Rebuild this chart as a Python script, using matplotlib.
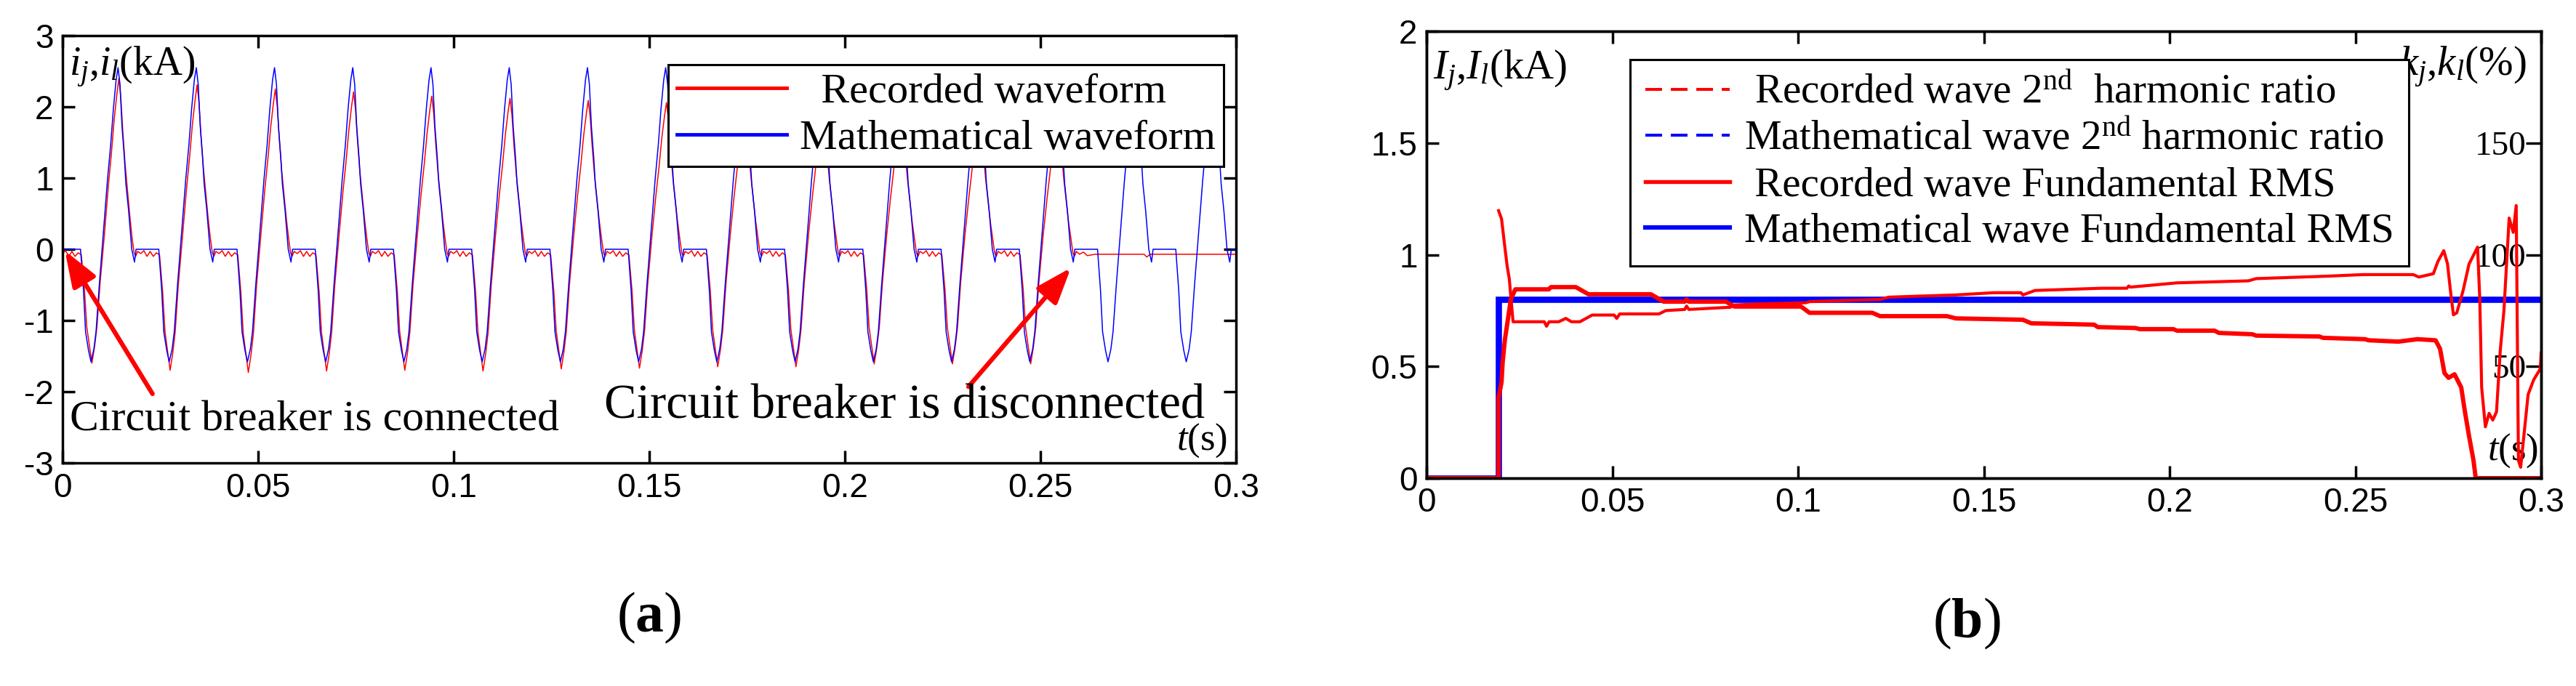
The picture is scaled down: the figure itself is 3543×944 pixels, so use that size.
import numpy as np
import matplotlib
matplotlib.use('Agg')
import matplotlib.pyplot as plt
from matplotlib.lines import Line2D

plt.rcParams['font.family'] = ['Liberation Serif', 'DejaVu Serif']
plt.rcParams['mathtext.fontset'] = 'custom'
plt.rcParams['mathtext.rm'] = 'Liberation Serif'
plt.rcParams['mathtext.it'] = 'Liberation Serif:italic'
plt.rcParams['mathtext.bf'] = 'Liberation Serif:bold'
plt.rcParams['axes.unicode_minus'] = False

# ---------------- panel (a): waveforms ----------------
# one 20 ms cycle of the mathematical waveform (s, kA)
period = 0.02
n_math_cycles = 15
cycle_t = [0.0, 0.0046, 0.00536, 0.00589, 0.00664, 0.00728, 0.00802, 0.00856,
           0.0094, 0.0105, 0.0115, 0.0123, 0.0130, 0.0137, 0.0142, 0.0147,
           0.0152, 0.0158, 0.0162, 0.0169, 0.0173, 0.0177, 0.0184, 0.0188]
math_cycle_i = [0.0, 0.0, -0.58, -1.16, -1.42, -1.58, -1.40, -1.16,
                -0.50, 0.27, 0.98, 1.46, 1.97, 2.38, 2.55, 2.31,
                1.73, 1.29, 0.92, 0.54, 0.27, 0.0, -0.18, 0.0]

# recorded waveform: reference cycle (2nd cycle) and per-cycle peaks
rec_cycle_t = [0.0, 0.0008, 0.0016, 0.0024, 0.0032, 0.0040, 0.0048, 0.0056,
               0.0062, 0.0069, 0.0075, 0.0082, 0.0088, 0.0096, 0.0107, 0.0117,
               0.0125, 0.0132, 0.0139, 0.0144, 0.0149, 0.0154, 0.0160, 0.0166,
               0.0172, 0.0178, 0.0183, 0.0187, 0.0192]
rec_cycle_i = [-0.06, -0.02, -0.10, -0.03, -0.10, -0.05, -0.08, -0.60,
               -1.16, -1.45, -1.70, -1.45, -1.16, -0.50, 0.20, 0.85,
               1.30, 1.75, 2.10, 2.31, 2.05, 1.60, 1.15, 0.80,
               0.45, 0.15, -0.05, -0.10, -0.03]
rec_ref_pos, rec_ref_neg = 2.31, -1.70
rec_pos_peaks = [2.40, 2.31, 2.25, 2.21, 2.15, 2.12, 2.09, 2.06, 2.03, 2.01, 1.99, 1.97, 1.95]
rec_neg_peaks = [-1.60, -1.70, -1.73, -1.71, -1.70, -1.71, -1.68, -1.67, -1.65, -1.65, -1.61, -1.61, -1.61]
rec_tail_t = [0.2600, 0.2610, 0.2620, 0.2640, 0.2700, 0.2765, 0.2772, 0.2780, 0.3000]
rec_tail_i = [-0.07, -0.04, -0.09, -0.07, -0.07, -0.07, -0.11, -0.07, -0.07]

a_xticks = [0, 0.05, 0.1, 0.15, 0.2, 0.25, 0.3]
a_xlabels = ['0', '0.05', '0.1', '0.15', '0.2', '0.25', '0.3']
a_yticks = [-3, -2, -1, 0, 1, 2, 3]
a_ylabels = ['-3', '-2', '-1', '0', '1', '2', '3']

# ---------------- panel (b): RMS and 2nd harmonic ratio ----------------
rms_math_t = [0.0, 0.0194, 0.0194, 0.3]
rms_math_v = [0.0, 0.0, 0.80, 0.80]

rms_rec_t = [0.0, 0.0194, 0.0194, 0.0202, 0.0205, 0.0211, 0.0219, 0.0227, 0.0239,
             0.0329, 0.0335, 0.0402, 0.0436, 0.0604, 0.0638, 0.0695, 0.0700, 0.0706,
             0.0806, 0.0829, 0.1008, 0.1031, 0.1200, 0.1221, 0.1401, 0.1425, 0.1605,
             0.1628, 0.1797, 0.1807, 0.1908, 0.1920, 0.2010, 0.2020, 0.2121, 0.2133,
             0.2223, 0.2233, 0.2403, 0.2413, 0.2526, 0.2536, 0.2616, 0.2667, 0.2716,
             0.2728, 0.2740, 0.2751, 0.2767, 0.2785, 0.2795, 0.2806, 0.2818, 0.2824, 0.3]
rms_rec_v = [0.0, 0.0, 0.36, 0.43, 0.52, 0.62, 0.71, 0.80, 0.845,
             0.845, 0.855, 0.855, 0.823, 0.823, 0.79, 0.79, 0.80, 0.79,
             0.79, 0.768, 0.768, 0.74, 0.74, 0.725, 0.725, 0.715, 0.709,
             0.693, 0.687, 0.676, 0.672, 0.667, 0.667, 0.66, 0.66, 0.65,
             0.644, 0.638, 0.634, 0.628, 0.622, 0.617, 0.611, 0.622, 0.617,
             0.579, 0.47, 0.449, 0.465, 0.406, 0.297, 0.189, 0.08, 0.0, 0.0]

h2_rec_t = [0.0194, 0.0202, 0.0209, 0.0217, 0.0223, 0.0227, 0.0233, 0.0317, 0.0323,
            0.0330, 0.0356, 0.0375, 0.0390, 0.0413, 0.0446, 0.0505, 0.0512, 0.0520,
            0.0626, 0.0644, 0.0695, 0.0700, 0.0706, 0.0818, 0.0829, 0.0902, 0.1020,
            0.1031, 0.1221, 0.1244, 0.1425, 0.1527, 0.1600, 0.1605, 0.1638, 0.1818,
            0.1885, 0.1890, 0.1895, 0.2020, 0.2212, 0.2233, 0.2425, 0.2521, 0.2656,
            0.2671, 0.2710, 0.2722, 0.2738, 0.2748, 0.2756, 0.2764, 0.2773, 0.2790,
            0.2806, 0.2829, 0.2835, 0.2840, 0.2850, 0.2860, 0.2870, 0.2880, 0.2890,
            0.2900, 0.2914, 0.2925, 0.2933, 0.2939, 0.2945, 0.2965, 0.2980, 0.2998, 0.3]
h2_rec_pct = [119.7, 116, 106, 95, 89, 81, 70, 70, 68,
              70, 70, 71.5, 70, 70, 73, 73, 71.5, 73.5,
              73.5, 75, 75.5, 77, 75.5, 76.5, 77.5, 78, 78.5,
              79, 80, 81, 82, 83, 83, 82, 84, 85,
              85, 86, 85.5, 87.4, 88.3, 89.3, 90.4, 91.1, 91.1,
              90, 91.5, 96.9, 101.8, 96, 83.9, 73.1, 74, 83.9,
              95.8, 103.4, 80, 40.6, 23, 29, 26, 29.7, 57,
              75.1, 116.4, 110, 122, 8, 4.9, 37.4, 44, 49, 56]

b_xticks = a_xticks
b_xlabels = a_xlabels
b_yticks = [0, 0.5, 1, 1.5, 2]
b_ylabels = ['0', '0.5', '1', '1.5', '2']
b_y2ticks = [50, 100, 150]
b_y2labels = ['50', '100', '150']

# build the periodic waveforms from the cycle templates
math_t = np.concatenate([k * period + np.array(cycle_t) for k in range(n_math_cycles)] + [[0.3]])
math_i = np.concatenate([math_cycle_i] * n_math_cycles + [[0.0]])

rec_t_parts, rec_i_parts = [], []
base = np.array(rec_cycle_i)
for k, (pk, nk) in enumerate(zip(rec_pos_peaks, rec_neg_peaks)):
    vals = base.copy()
    vals[base > 0.2] *= pk / rec_ref_pos
    vals[base < -0.2] *= nk / rec_ref_neg
    rec_t_parts.append(k * period + np.array(rec_cycle_t))
    rec_i_parts.append(vals)
rec_t = np.concatenate(rec_t_parts + [rec_tail_t])
rec_i = np.concatenate(rec_i_parts + [rec_tail_i])

W, H = 3543, 944
fig = plt.figure(figsize=(W / 100, H / 100), dpi=100)

sans = 'Liberation Sans'
tick_kw = dict(direction='in', length=12, width=2.5, labelsize=33, pad=9)

# ---- (a)
axa = fig.add_axes([86 / W, 1 - 637 / H, (1700 - 86) / W, (637 - 49) / H])
l_rec, = axa.plot(rec_t, rec_i, color='red', lw=1.1, label='  Recorded waveform')
l_math, = axa.plot(math_t, math_i, color='blue', lw=1.1, label='Mathematical waveform')
axa.set_xlim(0, 0.3)
axa.set_ylim(-3, 3)
axa.set_xticks(a_xticks, labels=a_xlabels, fontfamily=sans)
axa.set_yticks(a_yticks, labels=a_ylabels, fontfamily=sans)
axa.tick_params(top=True, right=True, **tick_kw)
for s in axa.spines.values():
    s.set_linewidth(2.5)

leg = axa.legend(handles=[l_rec, l_math], loc='upper left',
                 bbox_to_anchor=(919 / W, 1 - 89 / H), bbox_transform=fig.transFigure,
                 borderaxespad=0, prop={'family': 'Liberation Serif', 'size': 42},
                 handlelength=2.6, handletextpad=0.3, labelspacing=0.19, borderpad=0.2,
                 fancybox=False, framealpha=1, edgecolor='black')
leg.get_frame().set_linewidth(2.2)
for ln in leg.get_lines():
    ln.set_linewidth(3.5)

arrow_kw = dict(arrowstyle='-|>,head_length=1.5,head_width=0.55', color='red', lw=4.5,
                mutation_scale=20, shrinkA=0, shrinkB=0)
axa.annotate('', xy=(0.0006, -0.02), xytext=(0.023, -2.03), arrowprops=arrow_kw)
axa.annotate('', xy=(0.2578, -0.26), xytext=(0.2316, -1.93), arrowprops=arrow_kw)
axa.text(0.0019, -2.55, 'Circuit breaker is connected', fontsize=43, va='baseline')
axa.text(0.1385, -2.37, 'Circuit breaker is disconnected', fontsize=48, va='baseline')
axa.text(0.0056, 0.978, r'$i_j{,}i_l$(kA)', transform=axa.transAxes, fontsize=40,
         ha='left', va='top')
axa.text(0.9926, 0.008, r'$t$(s)', transform=axa.transAxes, fontsize=38,
         ha='right', va='bottom')

# ---- (b)
axb = fig.add_axes([1962 / W, 1 - 658 / H, (3495 - 1962) / W, (658 - 43) / H])
axb.plot(rms_math_t, rms_math_v, color='blue', lw=6.2, solid_joinstyle='miter')
axb.plot(rms_rec_t, rms_rec_v, color='red', lw=4.3)
axb.set_xlim(0, 0.3)
axb.set_ylim(0, 2)
axb.set_xticks(b_xticks, labels=b_xlabels, fontfamily=sans)
axb.set_yticks(b_yticks, labels=b_ylabels, fontfamily=sans)
axb.tick_params(top=True, right=False, **tick_kw)
for s in axb.spines.values():
    s.set_linewidth(2.5)

ax2 = axb.twinx()
ax2.plot(h2_rec_t, h2_rec_pct, color='red', lw=3.0)
ax2.set_ylim(0, 200)
ax2.set_yticks(b_y2ticks, labels=b_y2labels, fontfamily='Liberation Serif', fontsize=34)
ax2.tick_params(axis='y', direction='in', length=15, width=2.5, pad=-15)
for lbl in ax2.get_yticklabels():
    lbl.set_horizontalalignment('right')
for s in ax2.spines.values():
    s.set_linewidth(2.5)

handles = [Line2D([], [], color='red', lw=2.9, dashes=(5.7, 3.0)),
           Line2D([], [], color='blue', lw=2.9, dashes=(5.7, 3.0)),
           Line2D([], [], color='red', lw=3.9),
           Line2D([], [], color='blue', lw=4.4)]
labels = [r' Recorded wave 2$^{\mathrm{nd}}$  harmonic ratio',
          r'Mathematical wave 2$^{\mathrm{nd}}$ harmonic ratio',
          ' Recorded wave Fundamental RMS',
          'Mathematical wave Fundamental RMS']
legb = ax2.legend(handles, labels, loc='upper left',
                  bbox_to_anchor=(2242 / W, 1 - 82 / H), bbox_transform=fig.transFigure,
                  borderaxespad=0, prop={'family': 'Liberation Serif', 'size': 41},
                  handlelength=2.05, handletextpad=0.35, labelspacing=0.2, borderpad=0.36,
                  fancybox=False, framealpha=1, edgecolor='black')
legb.get_frame().set_linewidth(2.2)

axb.text(0.0059, 0.961, r'$I_j{,}I_l$(kA)', transform=axb.transAxes, fontsize=41,
         ha='left', va='top')
axb.text(0.987, 0.969, r'$k_j{,}k_l$(%)', transform=axb.transAxes, fontsize=41,
         ha='right', va='top')
axb.text(0.9974, 0.02, r'$t$(s)', transform=axb.transAxes, fontsize=38,
         ha='right', va='bottom')

fig.text(893 / W, 1 - 850 / H, r'($\mathbf{a}$)', ha='center', va='center', fontsize=56)
fig.text(2705 / W, 1 - 858 / H, r'($\mathbf{b}$)', ha='center', va='center', fontsize=56)

fig.savefig('out.png', dpi=100)
